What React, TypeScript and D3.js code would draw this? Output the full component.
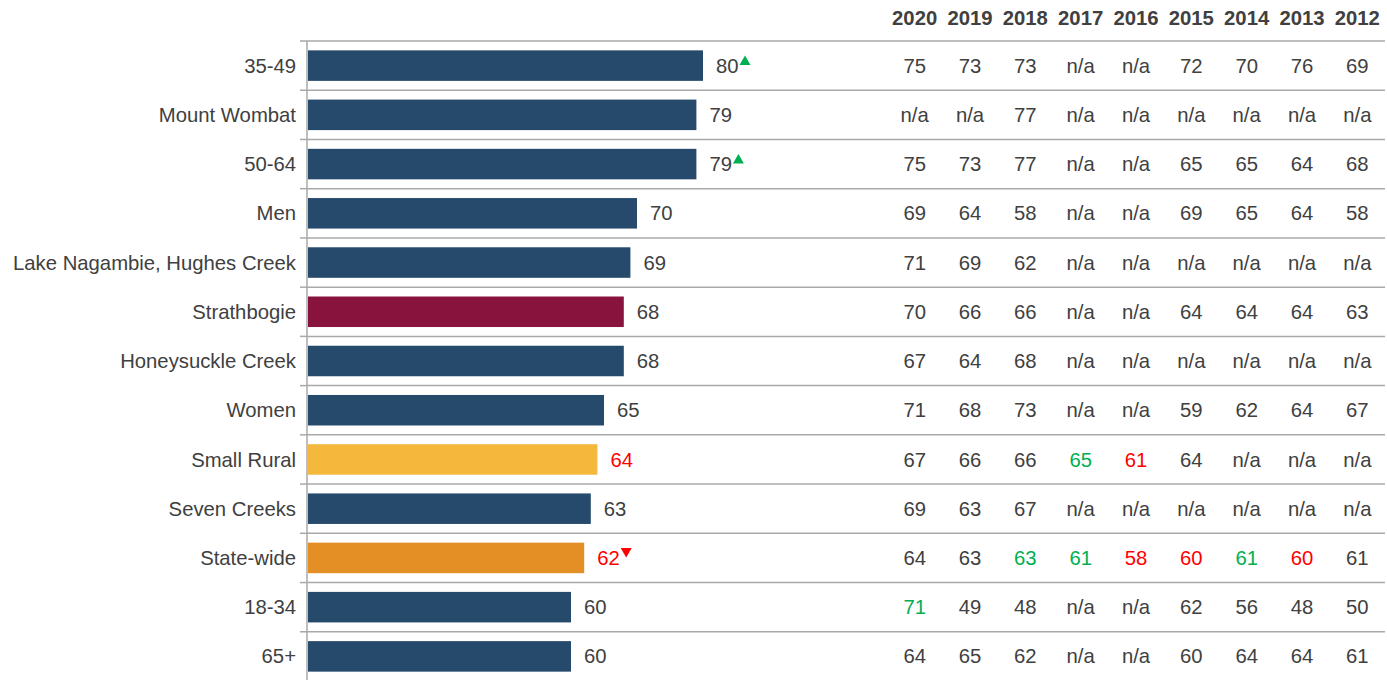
import React from "react";
import * as d3 from "d3";

const categories = [
  "35-49",
  "Mount Wombat",
  "50-64",
  "Men",
  "Lake Nagambie, Hughes Creek",
  "Strathbogie",
  "Honeysuckle Creek",
  "Women",
  "Small Rural",
  "Seven Creeks",
  "State-wide",
  "18-34",
  "65+",
];
const values2021 = [80, 79, 79, 70, 69, 68, 68, 65, 64, 63, 62, 60, 60];
// significance: 1 = significantly higher (green up), -1 = lower (red down), 0 none
const barSignif = [1, 0, 1, 0, 0, 0, 0, 0, 0, 0, -1, 0, 0];
// label colour flag: "r" red, "g" green, "" default
const barLabelColor = ["", "", "", "", "", "", "", "", "r", "", "r", "", ""];
const barKinds = ["base", "base", "base", "base", "base", "council", "base", "base", "group", "base", "state", "base", "base"];

const years = ["2020", "2019", "2018", "2017", "2016", "2015", "2014", "2013", "2012"];
const tableValues = [
  ["75", "73", "73", "n/a", "n/a", "72", "70", "76", "69"],
  ["n/a", "n/a", "77", "n/a", "n/a", "n/a", "n/a", "n/a", "n/a"],
  ["75", "73", "77", "n/a", "n/a", "65", "65", "64", "68"],
  ["69", "64", "58", "n/a", "n/a", "69", "65", "64", "58"],
  ["71", "69", "62", "n/a", "n/a", "n/a", "n/a", "n/a", "n/a"],
  ["70", "66", "66", "n/a", "n/a", "64", "64", "64", "63"],
  ["67", "64", "68", "n/a", "n/a", "n/a", "n/a", "n/a", "n/a"],
  ["71", "68", "73", "n/a", "n/a", "59", "62", "64", "67"],
  ["67", "66", "66", "65", "61", "64", "n/a", "n/a", "n/a"],
  ["69", "63", "67", "n/a", "n/a", "n/a", "n/a", "n/a", "n/a"],
  ["64", "63", "63", "61", "58", "60", "61", "60", "61"],
  ["71", "49", "48", "n/a", "n/a", "62", "56", "48", "50"],
  ["64", "65", "62", "n/a", "n/a", "60", "64", "64", "61"],
];
const tableColors = [
  ["", "", "", "", "", "", "", "", ""],
  ["", "", "", "", "", "", "", "", ""],
  ["", "", "", "", "", "", "", "", ""],
  ["", "", "", "", "", "", "", "", ""],
  ["", "", "", "", "", "", "", "", ""],
  ["", "", "", "", "", "", "", "", ""],
  ["", "", "", "", "", "", "", "", ""],
  ["", "", "", "", "", "", "", "", ""],
  ["", "", "", "g", "r", "", "", "", ""],
  ["", "", "", "", "", "", "", "", ""],
  ["", "", "g", "g", "r", "r", "g", "r", ""],
  ["g", "", "", "", "", "", "", "", ""],
  ["", "", "", "", "", "", "", "", ""],
];

const W = 1387;
const H = 680;
const FONT = "'Liberation Sans', Arial, sans-serif";
const TEXT = "#404040";
const RED = "#ff0000";
const GREEN = "#00b050";
const GRID = "#a9a9a9";
const kindColor: Record<string, string> = {
  base: "#264a6c",
  council: "#88143d",
  group: "#f4b83c",
  state: "#e38f25",
};
const colorOf = (c: string) => (c === "r" ? RED : c === "g" ? GREEN : TEXT);
const FS = 20.3;

export default function App() {
  const axisX = 307;
  const top = 41;
  const bottom = 681;
  const x = d3.scaleLinear().domain([20, 100]).range([axisX, 835]);
  const y = d3.scaleBand<string>().domain(categories).range([top, bottom]).padding(0);
  const step = y.step();
  const barH = step * 0.62;
  const col = d3.scaleBand<string>().domain(years).range([887, 1385]).padding(0);

  return (
    <svg
      width={W}
      height={H}
      style={{ position: "absolute", left: 0, top: 0, display: "block" }}
      fontFamily={FONT}
    >
      {/* headers */}
      {years.map((yr) => (
        <text
          key={yr}
          x={col(yr)! + col.bandwidth() / 2}
          y={25}
          textAnchor="middle"
          fontSize={20.3}
          fontWeight="bold"
          fill={TEXT}
        >
          {yr}
        </text>
      ))}
      {/* gridlines */}
      {categories.map((c, i) => (
        <g key={"g" + i}>
          <line x1={axisX} x2={1385} y1={y(c)!} y2={y(c)!} stroke={GRID} strokeWidth={1.5} />
          <line x1={axisX - 7} x2={axisX} y1={y(c)!} y2={y(c)!} stroke={GRID} strokeWidth={1.5} />
        </g>
      ))}
      <line x1={axisX} x2={axisX} y1={top} y2={H} stroke={GRID} strokeWidth={1.5} />
      {/* bars */}
      {categories.map((c, i) => {
        const cy = y(c)! + step / 2;
        const xEnd = x(values2021[i]);
        const labelX = xEnd + 13;
        const lblColor = colorOf(barLabelColor[i]);
        const triX = labelX + 23.5;
        return (
          <g key={"b" + i}>
            <text
              x={296}
              y={cy}
              dy="0.35em"
              textAnchor="end"
              fontSize={FS}
              fill={TEXT}
            >
              {c}
            </text>
            <rect
              x={axisX + 1}
              y={cy - barH / 2}
              width={xEnd - axisX - 1}
              height={barH}
              fill={kindColor[barKinds[i]]}
            />
            <text x={labelX} y={cy} dy="0.35em" fontSize={FS} fill={lblColor}>
              {values2021[i]}
            </text>
            {barSignif[i] === 1 && (
              <path
                d={`M${triX},${cy - 0.5} L${triX + 11},${cy - 0.5} L${triX + 5.5},${cy - 10} Z`}
                fill={GREEN}
              />
            )}
            {barSignif[i] === -1 && (
              <path
                d={`M${triX},${cy - 10} L${triX + 11},${cy - 10} L${triX + 5.5},${cy - 0.5} Z`}
                fill={RED}
              />
            )}
            {years.map((yr, j) => (
              <text
                key={yr}
                x={col(yr)! + col.bandwidth() / 2}
                y={cy}
                dy="0.35em"
                textAnchor="middle"
                fontSize={FS}
                fill={colorOf(tableColors[i][j])}
              >
                {tableValues[i][j]}
              </text>
            ))}
          </g>
        );
      })}
    </svg>
  );
}
